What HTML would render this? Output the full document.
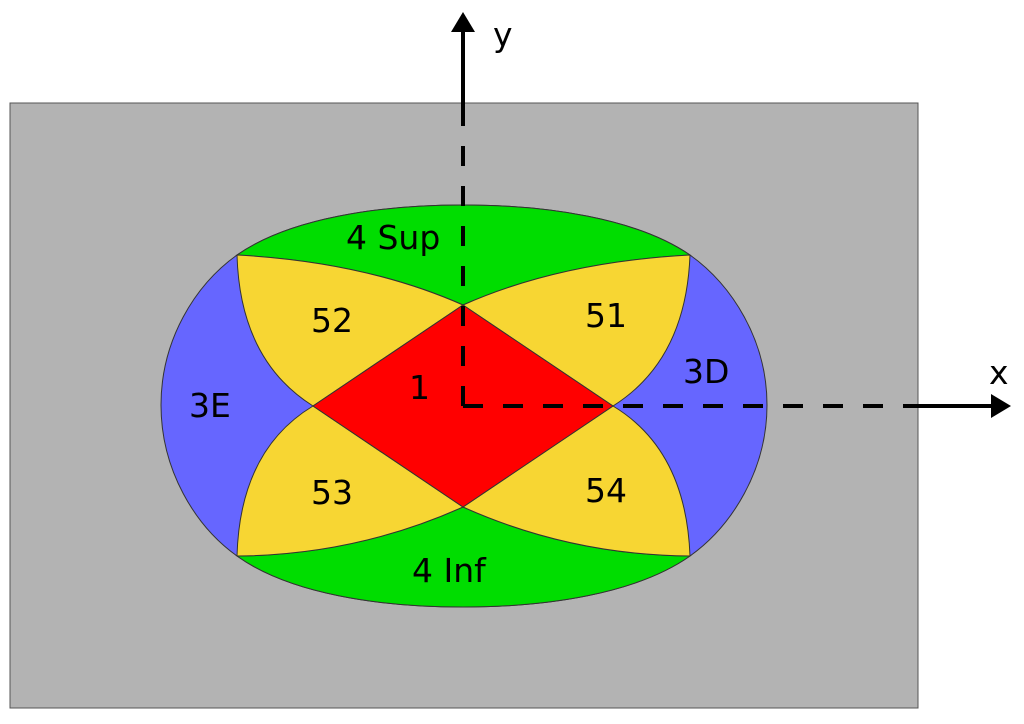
<!DOCTYPE html>
<html><head><meta charset="utf-8"><style>
html,body{margin:0;padding:0;background:#fff;}
svg{display:block;}
text{font-family:"DejaVu Sans","Liberation Sans",sans-serif;font-size:33px;fill:#000;}
</style></head><body>
<svg width="1024" height="724" viewBox="0 0 1024 724">
<rect x="10" y="103" width="908" height="605" fill="#b3b3b3" stroke="#555" stroke-width="1"/>
<!-- outer shape blue -->
<path d="M161,405 C161,340 195,285 237,255 C290,218 380,205 463,205 C546,205 636,218 690,255 C732,285 767,340 767,405 C767,470 732,526 690,556 C636,594 546,607 463,607 C380,607 290,594 237,556 C195,526 161,470 161,405 Z" fill="#6666ff" stroke="#333" stroke-width="1"/>
<!-- green top -->
<path d="M237,255 C290,218 380,205 463,205 C546,205 636,218 690,255 Q560,262 463,305 Q366,262 237,255 Z" fill="#00dd00" stroke="#333" stroke-width="1"/>
<!-- green bottom -->
<path d="M237,556 C290,594 380,607 463,607 C546,607 636,594 690,556 Q570,555 463,507 Q356,555 237,556 Z" fill="#00dd00" stroke="#333" stroke-width="1"/>
<!-- yellow lobes -->
<path d="M463,305 Q560,262 690,255 Q686,360 613,406 Z" fill="#f7d633" stroke="#333" stroke-width="1"/>
<path d="M463,305 Q366,262 237,255 Q240,360 313,406 Z" fill="#f7d633" stroke="#333" stroke-width="1"/>
<path d="M463,507 Q570,555 690,556 Q686,450 613,406 Z" fill="#f7d633" stroke="#333" stroke-width="1"/>
<path d="M463,507 Q356,555 237,556 Q240,450 313,406 Z" fill="#f7d633" stroke="#333" stroke-width="1"/>
<!-- diamond -->
<path d="M463,305 L613,406 L463,507 L313,406 Z" fill="#ff0000" stroke="#333" stroke-width="1"/>
<!-- axes -->
<path d="M463,406 L463,103" stroke="#000" stroke-width="4" stroke-dasharray="20,20" fill="none"/>
<path d="M463,406 L918,406" stroke="#000" stroke-width="4" stroke-dasharray="20,20" fill="none"/>
<line x1="463" y1="106" x2="463" y2="30" stroke="#000" stroke-width="4"/>
<polygon points="463,12 451,32 475,32" fill="#000"/>
<line x1="918" y1="406" x2="992" y2="406" stroke="#000" stroke-width="4"/>
<polygon points="1011,406 991,394 991,418" fill="#000"/>
<text x="493" y="46">y</text>
<text x="989" y="384">x</text>
<text x="346" y="249">4 Sup</text>
<text x="311" y="332">52</text>
<text x="585" y="327">51</text>
<text x="409" y="399">1</text>
<text x="189" y="417">3E</text>
<text x="683" y="383">3D</text>
<text x="311" y="504">53</text>
<text x="585" y="502">54</text>
<text x="412" y="582">4 Inf</text>
</svg>
</body></html>
